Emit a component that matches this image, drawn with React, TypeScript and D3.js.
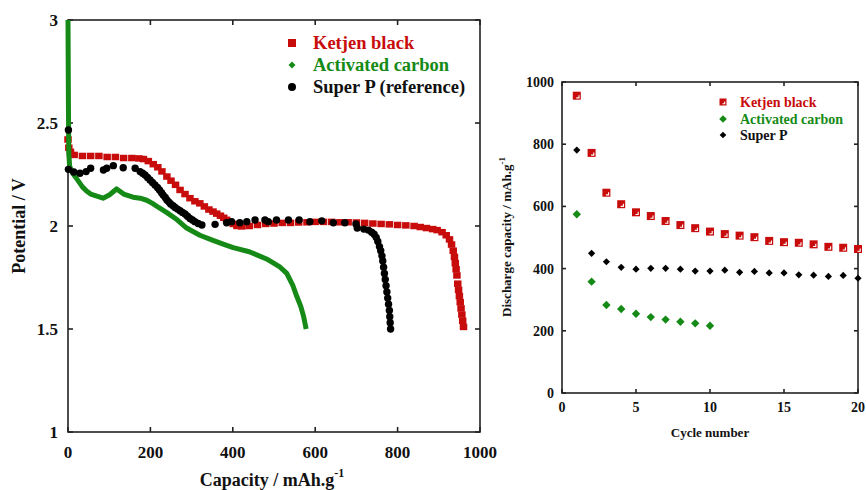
import React from "react";
import * as d3 from "d3";

// discharge curves: [capacity mAh/g, potential V]
const ketjenCurve: [number, number][] = [
  [0, 2.42], [2, 2.38], [6, 2.36], [15, 2.345], [35, 2.34], [55, 2.34], [75, 2.34], [95, 2.335],
  [115, 2.335], [135, 2.33], [155, 2.33], [172, 2.328], [183, 2.325], [195, 2.315], [207, 2.3],
  [218, 2.285], [228, 2.265], [240, 2.24], [250, 2.22], [261, 2.2], [272, 2.175], [284, 2.155],
  [296, 2.135], [308, 2.12], [320, 2.11], [331, 2.095], [342, 2.08], [352, 2.07], [361, 2.06],
  [370, 2.05], [378, 2.04], [385, 2.03], [393, 2.02], [401, 2.01], [410, 2.0], [422, 1.998],
  [440, 2.0], [460, 2.005], [480, 2.01], [500, 2.012], [520, 2.015], [540, 2.015], [560, 2.017],
  [580, 2.018], [600, 2.02], [620, 2.02], [640, 2.02], [660, 2.018], [680, 2.018], [700, 2.017],
  [720, 2.015], [740, 2.012], [760, 2.01], [780, 2.008], [800, 2.005], [820, 2.003], [840, 2.0],
  [855, 1.995], [870, 1.99], [885, 1.985], [896, 1.98], [908, 1.97], [918, 1.955], [926, 1.935],
  [931, 1.91], [935, 1.88], [938, 1.85], [940, 1.82], [942, 1.79], [944, 1.76], [946, 1.72],
  [948, 1.69], [950, 1.66], [952, 1.63], [954, 1.6], [956, 1.57], [958, 1.54], [960, 1.51],
];

const activatedCurve: [number, number][] = [
  [0, 3.0], [0.5, 2.8], [1, 2.6], [1.5, 2.45], [2, 2.35], [4, 2.29], [10, 2.26], [21, 2.23],
  [35, 2.19], [45, 2.17], [55, 2.155], [70, 2.145], [85, 2.135], [100, 2.15], [112, 2.17],
  [118, 2.18], [125, 2.17], [135, 2.155], [158, 2.14], [175, 2.135], [191, 2.125], [205, 2.11],
  [220, 2.09], [240, 2.065], [265, 2.03], [288, 1.99], [320, 1.955], [352, 1.93], [380, 1.91],
  [401, 1.895], [440, 1.875], [482, 1.84], [515, 1.8], [531, 1.77], [546, 1.71], [555, 1.66],
  [565, 1.61], [572, 1.56], [576, 1.52], [578, 1.5],
];

const superPCurve: [number, number][] = [
  [1, 2.466], [1, 2.275], [14, 2.262], [29, 2.256], [44, 2.264], [55, 2.28], [86, 2.272],
  [94, 2.28], [110, 2.293], [134, 2.283], [163, 2.28], [175, 2.264], [181, 2.256], [187, 2.248],
  [193, 2.236], [199, 2.223], [205, 2.211], [211, 2.199], [217, 2.187], [222, 2.175], [227, 2.162],
  [231, 2.15], [236, 2.138], [240, 2.126], [245, 2.116], [249, 2.107], [255, 2.098], [260, 2.09],
  [266, 2.082], [272, 2.074], [278, 2.066], [284, 2.058], [290, 2.047], [296, 2.037], [302, 2.029],
  [308, 2.021], [316, 2.012], [325, 2.005], [357, 2.008], [385, 2.016],
  [397, 2.021], [417, 2.016], [434, 2.021], [454, 2.029], [478, 2.029], [486, 2.021],
  [506, 2.029], [535, 2.029], [561, 2.029], [587, 2.021], [616, 2.025], [644, 2.016],
  [672, 2.016], [699, 2.01], [702, 1.99], [718, 1.985], [729, 1.98], [737, 1.97], [743, 1.96],
  [748, 1.945], [752, 1.925], [756, 1.9], [759, 1.88], [762, 1.855], [764, 1.83], [766, 1.8],
  [768, 1.77], [770, 1.74], [772, 1.71], [774, 1.68], [776, 1.65], [778, 1.62], [780, 1.59],
  [781, 1.56], [782, 1.53], [783, 1.5],
];

// cycling data
const cycles = [1, 2, 3, 4, 5, 6, 7, 8, 9, 10, 11, 12, 13, 14, 15, 16, 17, 18, 19, 20];
const ketjenCycle = [956, 772, 644, 607, 581, 569, 553, 540, 530, 519, 511, 506, 501, 489, 485, 483, 478, 470, 467, 463];
const superPCycle = [781, 449, 422, 404, 398, 401, 401, 398, 392, 392, 395, 388, 391, 386, 386, 380, 379, 375, 378, 369];
const activatedCycle = [575, 358, 283, 270, 255, 244, 236, 229, 224, 216];

const leftXTicks = [0, 200, 400, 600, 800, 1000];
const leftYTicks = [1, 1.5, 2, 2.5, 3];
const rightXTicks = [0, 5, 10, 15, 20];
const rightYTicks = [0, 200, 400, 600, 800, 1000];

const RED = "#c80c0c";
const GREEN = "#168a16";
const BLACK = "#000";
const serif = "'Liberation Serif', 'Times New Roman', serif";

function Frame({ x, y, xt, yt, tick = 5 }: any) {
  const [x0, x1] = x.range();
  const [y0, y1] = y.range();
  return (
    <g stroke="#222" strokeWidth={1.6} fill="none">
      <rect x={x0} y={y1} width={x1 - x0} height={y0 - y1} />
      {xt.map((t: number) => (
        <g key={"x" + t}>
          <line x1={x(t)} x2={x(t)} y1={y0} y2={y0 - tick} />
          <line x1={x(t)} x2={x(t)} y1={y1} y2={y1 + tick} />
        </g>
      ))}
      {yt.map((t: number) => (
        <g key={"y" + t}>
          <line x1={x0} x2={x0 + tick} y1={y(t)} y2={y(t)} />
          <line x1={x1} x2={x1 - tick} y1={y(t)} y2={y(t)} />
        </g>
      ))}
    </g>
  );
}

// solid square (left panel)
function Block({ cx, cy, w, h, c }: any) {
  return <rect x={cx - w / 2} y={cy - h / 2} width={w} height={h} fill={c} />;
}

// square with small white corner mark (right panel)
function Square({ cx, cy, s, c }: any) {
  return (
    <g>
      <rect x={cx - s / 2} y={cy - s / 2} width={s} height={s} fill={c} />
      <path
        d={`M${cx + s / 2 - 1.8},${cy - 0.5}V${cy + s / 2 - 1.8}H${cx - 0.5}`}
        fill="none"
        stroke="#fff"
        strokeWidth={1.1}
      />
    </g>
  );
}

function Diamond({ cx, cy, r, c }: any) {
  return <path d={`M${cx},${cy - r}L${cx + r},${cy}L${cx},${cy + r}L${cx - r},${cy}Z`} fill={c} />;
}

export default function App() {
  // left panel
  const lx = d3.scaleLinear().domain([0, 1000]).range([68, 480]);
  const ly = d3.scaleLinear().domain([1, 3]).range([432, 20]);
  const line = d3.line<[number, number]>().x((d) => lx(d[0])).y((d) => ly(d[1]));

  // right panel
  const rx = d3.scaleLinear().domain([0, 20]).range([562, 858]);
  const ry = d3.scaleLinear().domain([0, 1000]).range([393, 82]);

  return (
    <svg width={866} height={490} style={{ position: "absolute", left: 0, top: 0, background: "#fff" }}>
      {/* ---------- left: discharge curves ---------- */}
      <Frame x={lx} y={ly} xt={leftXTicks} yt={leftYTicks} />
      {ketjenCurve.map((d, i) => (
        <Block key={"k" + i} cx={lx(d[0])} cy={ly(d[1])} w={7.5} h={6.5} c={RED} />
      ))}
      <path d={line(activatedCurve) || ""} fill="none" stroke={GREEN} strokeWidth={5} strokeLinejoin="round" />
      {superPCurve.map((d, i) => (
        <circle key={"s" + i} cx={lx(d[0])} cy={ly(d[1])} r={3.7} fill={BLACK} />
      ))}

      <g fontFamily={serif} fontWeight="bold" fontSize={17} fill="#111">
        {leftYTicks.map((t) => (
          <text key={t} x={58} y={ly(t)} dy="0.35em" textAnchor="end">{t}</text>
        ))}
        {leftXTicks.map((t) => (
          <text key={t} x={lx(t)} y={458} textAnchor="middle">{t}</text>
        ))}
        <text x={272} y={486} textAnchor="middle" fontSize={18}>
          Capacity / mAh.g<tspan dy={-9} fontSize={12}>-1</tspan>
        </text>
        <text transform="translate(25,226) rotate(-90)" textAnchor="middle" fontSize={18}>Potential / V</text>
      </g>

      <g fontFamily={serif} fontWeight="bold" fontSize={18.5}>
        <Block cx={292} cy={43} w={8} h={8} c={RED} />
        <text x={313} y={49} fill={RED}>Ketjen black</text>
        <Diamond cx={292} cy={65} r={3.5} c={GREEN} />
        <text x={313} y={71} fill={GREEN}>Activated carbon</text>
        <circle cx={292} cy={87} r={4} fill={BLACK} />
        <text x={313} y={93} fill="#111">Super P (reference)</text>
      </g>

      {/* ---------- right: cycling ---------- */}
      <Frame x={rx} y={ry} xt={rightXTicks} yt={rightYTicks} tick={4} />
      {ketjenCycle.map((v, i) => (
        <Square key={"kc" + i} cx={rx(cycles[i])} cy={ry(v)} s={8} c={RED} />
      ))}
      {superPCycle.map((v, i) => (
        <Diamond key={"sc" + i} cx={rx(cycles[i])} cy={ry(v)} r={3.6} c={BLACK} />
      ))}
      {activatedCycle.map((v, i) => (
        <Diamond key={"ac" + i} cx={rx(cycles[i])} cy={ry(v)} r={4.2} c={GREEN} />
      ))}

      <g fontFamily={serif} fontWeight="bold" fontSize={14} fill="#111">
        {rightYTicks.map((t) => (
          <text key={t} x={554} y={ry(t)} dy="0.35em" textAnchor="end">{t}</text>
        ))}
        {rightXTicks.map((t) => (
          <text key={t} x={rx(t)} y={412} textAnchor="middle">{t}</text>
        ))}
        <text x={710} y={437} textAnchor="middle" fontSize={13}>Cycle number</text>
        <text transform="translate(511,237) rotate(-90)" textAnchor="middle" fontSize={13}>
          Discharge capacity / mAh.g<tspan dy={-6} fontSize={9}>-1</tspan>
        </text>
      </g>

      <g fontFamily={serif} fontWeight="bold" fontSize={14}>
        <Square cx={723} cy={102} s={7} c={RED} />
        <text x={740} y={107} fill={RED}>Ketjen black</text>
        <Diamond cx={723} cy={119} r={3.8} c={GREEN} />
        <text x={740} y={124} fill={GREEN}>Activated carbon</text>
        <Diamond cx={723} cy={135} r={3.3} c={BLACK} />
        <text x={740} y={140} fill="#111">Super P</text>
      </g>
    </svg>
  );
}
